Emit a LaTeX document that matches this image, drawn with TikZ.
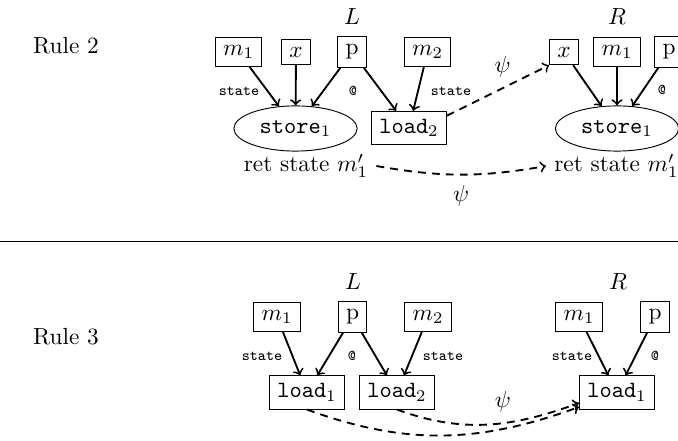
\documentclass[tikz,border=0pt]{standalone}
\usetikzlibrary{shapes.geometric}
\begin{document}
\begin{tikzpicture}[x=0.429pt, y=0.429pt,
  box/.style={draw, thin, inner sep=0.333em},
  oval/.style={draw, thin, ellipse, inner sep=0.333em},
  arr/.style={->, thick},
  darr/.style={->, thick, dash pattern=on 3.4pt off 2.6pt},
  lbl/.style={font=\fontsize{6.5}{7}\selectfont\ttfamily, inner sep=0pt}]
\useasboundingbox (0,0) rectangle (678,-441);

% ---------------- Rule 2 ----------------
\node (r2) at (66,-46) {Rule 2};
\node (L2) at (352,-17) {$L$};
\node (R2) at (617,-17) {$R$};

% left-hand side
\node[box] (a1) at (238.5,-52) {$m_1$};
\node[box] (ax) at (296,-52) {$x$};
\node[box] (ap) at (352,-52) {p};
\node[box] (am2) at (427.5,-52) {$m_2$};
\node[oval] (ast) at (295.5,-128.5) {\texttt{store}$_1$};
\node[box] (ald) at (409,-128) {\texttt{load}$_2$};
\node (aret) at (306,-166) {ret state $m'_1$};

\draw[arr] (a1) -- (ast);
\draw[arr] (ax) -- (ast);
\draw[arr] (ap) -- (ast);
\draw[arr] (ap) -- (ald);
\draw[arr] (am2) -- (ald);

\node[lbl] (s1) at (239,-91) {state};
\node[lbl] (at1) at (353,-91) {@};
\node[lbl] (s2) at (451,-91) {state};

% right-hand side
\node[box] (bx) at (564,-52) {$x$};
\node[box] (bm1) at (617,-52) {$m_1$};
\node[box] (bp) at (669,-52) {p};
\node[oval] (bst) at (617,-128.5) {\texttt{store}$_1$};
\node (bret) at (616.5,-166) {ret state $m'_1$};

\draw[arr] (bx) -- (bst);
\draw[arr] (bm1) -- (bst);
\draw[arr] (bp) -- (bst);
\node[lbl] (at2) at (662,-90) {@};

% morphism psi
\draw[darr] (ald.18) -- (bx.south west)
  node[pos=0.5, xshift=2pt, yshift=10pt] (psi1) {$\psi$};
\draw[darr] (aret.east) to[bend right=10]
  node[midway, below, yshift=-1pt] (psi2) {$\psi$} (bret.west);

% separator
\draw[line width=0.4pt] (0,-241) -- (678,-241);

% ---------------- Rule 3 ----------------
\node (r3) at (66,-337) {Rule 3};
\node (L3) at (353,-282) {$L$};
\node (R3) at (618,-282) {$R$};

% left-hand side
\node[box] (c1) at (277,-317) {$m_1$};
\node[box] (cp) at (352.5,-317) {p};
\node[box] (cm2) at (428,-317) {$m_2$};
\node[box] (cl1) at (307,-392.5) {\texttt{load}$_1$};
\node[box] (cl2) at (397,-392.5) {\texttt{load}$_2$};

\draw[arr] (c1) -- (cl1);
\draw[arr] (cp) -- (cl1);
\draw[arr] (cp) -- (cl2);
\draw[arr] (cm2) -- (cl2);

\node[lbl] (s3) at (262,-356) {state};
\node[lbl] (at3) at (352,-356) {@};
\node[lbl] (s4) at (443,-356) {state};

% right-hand side
\node[box] (dm1) at (579,-317) {$m_1$};
\node[box] (dp) at (655,-317) {p};
\node[box] (dl1) at (617,-392.5) {\texttt{load}$_1$};

\draw[arr] (dm1) -- (dl1);
\draw[arr] (dp) -- (dl1);
\node[lbl] (s5) at (572,-356) {state};
\node[lbl] (at4) at (655,-356) {@};

% morphism psi
\draw[darr] (cl1.south) .. controls +(-20:106) and +(200:106) .. ([yshift=-6.2pt]dl1.west);
\draw[darr] (cl2.south) .. controls +(-20:71) and +(200:71) .. ([yshift=-4.5pt]dl1.west);
\node (psi3) at (503,-402) {$\psi$};
\end{tikzpicture}
\end{document}
